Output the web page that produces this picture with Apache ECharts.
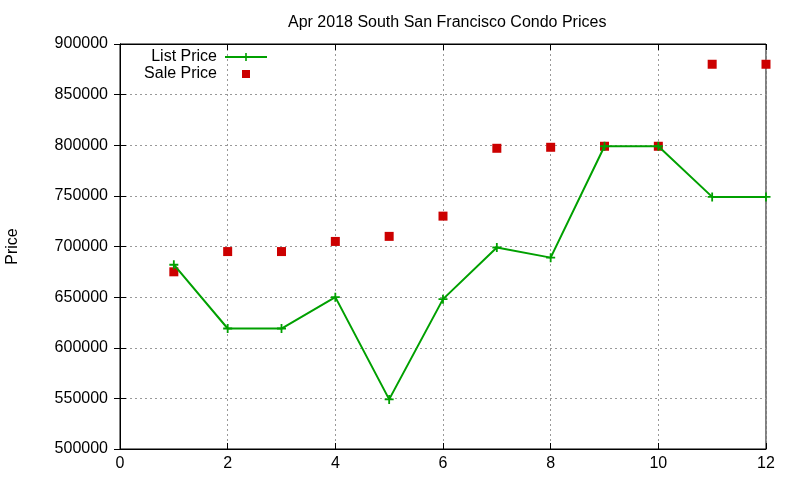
<!DOCTYPE html>
<html>
<head>
<meta charset="utf-8">
<script src="https://cdn.jsdelivr.net/npm/echarts@6/dist/echarts.min.js"></script>
<style>html,body{margin:0;padding:0;background:#fff}#c{width:800px;height:480px}</style>
</head>
<body>
<div id="c"></div>
<script>
var months = [1,2,3,4,5,6,7,8,9,10,11,12];
var listPrice = [682000,619000,619000,650000,549000,648000,699000,689000,799000,799000,749000,749000];
var salePrice = [675000,695000,695000,705000,710000,730000,797000,798000,799000,799000,880000,880000];
var titleText = 'Apr 2018 South San Francisco Condo Prices';

var chart = echarts.init(document.getElementById('c'), null, {renderer:'canvas'});
var font = 'Liberation Sans, Arial, sans-serif';
var plus = 'path://M4,0H6V4H10V6H6V10H4V6H0V4H4Z';
function pairs(vals){ return months.map(function(m,i){ return [m, vals[i]]; }); }
var tick = {inside:true,length:6,lineStyle:{color:'#000'}};
var grid = {show:true,lineStyle:{color:'#999',type:[2,3],width:1}};
chart.setOption({
  animation:false,
  backgroundColor:'#fff',
  title:{text:titleText,left:283,top:10,textStyle:{fontFamily:font,fontSize:16,fontWeight:'normal',color:'#000'}},
  grid:{left:120,right:34,top:44,bottom:31,show:true,borderColor:'#000',borderWidth:1,containLabel:false,outerBoundsMode:'none'},
  legend:[{
    data:['List Price'],orient:'vertical',align:'right',right:527,top:44,
    itemWidth:42,itemHeight:10,
    textStyle:{fontFamily:font,fontSize:16,color:'#000',padding:[0,3,0,0]}
  },{
    data:[{name:'Sale Price',icon:'rect'}],orient:'vertical',align:'right',right:545,top:61,
    itemWidth:8,itemHeight:8,
    textStyle:{fontFamily:font,fontSize:16,color:'#000',padding:[0,20,0,0]}
  }],
  xAxis:[{type:'value',min:0,max:12,interval:2,
    axisLine:{show:true,lineStyle:{color:'#000'}},
    axisTick:tick,
    axisLabel:{color:'#000',fontFamily:font,fontSize:16,margin:7},
    splitLine:grid
  },{type:'value',position:'top',min:0,max:12,interval:2,
    axisLine:{show:true,lineStyle:{color:'#000'}},axisTick:tick,axisLabel:{show:false},splitLine:{show:false}
  }],
  yAxis:[{type:'value',min:500000,max:900000,interval:50000,name:'Price',nameLocation:'middle',nameGap:99,
    nameTextStyle:{fontFamily:font,fontSize:16,color:'#000'},
    axisLine:{show:true,lineStyle:{color:'#000'}},
    axisTick:tick,
    axisLabel:{color:'#000',fontFamily:font,fontSize:16,margin:12,formatter:function(v){return String(v);}},
    splitLine:grid
  },{type:'value',position:'right',min:500000,max:900000,interval:50000,
    axisLine:{show:true,lineStyle:{color:'#000'}},axisTick:tick,axisLabel:{show:false},splitLine:{show:false}
  }],
  series:[{
    name:'List Price',type:'line',data:pairs(listPrice),
    symbol:plus,symbolSize:9,showAllSymbol:true,
    lineStyle:{color:'#00a000',width:2},itemStyle:{color:'#00a000'}
  },{
    name:'Sale Price',type:'scatter',data:pairs(salePrice),
    symbol:'rect',symbolSize:9,itemStyle:{color:'#cc0000',opacity:1}
  }]
});
</script>
</body>
</html>
